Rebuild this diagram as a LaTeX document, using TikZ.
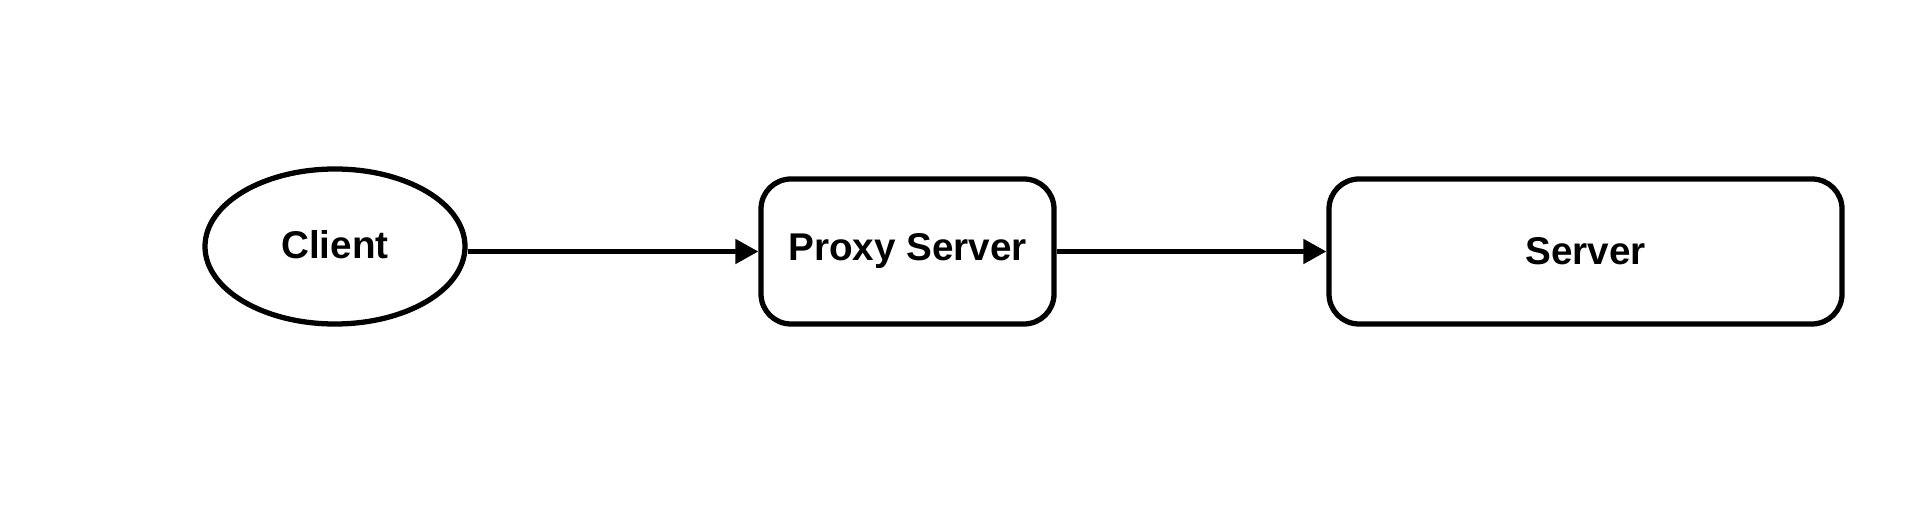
\documentclass[tikz,border=0pt]{standalone}
\usepackage{fontspec}
\setmainfont{Liberation Sans}
\usepackage{tikz}
\usetikzlibrary{positioning, arrows.meta, shapes.geometric}

\begin{document}
\begin{tikzpicture}[
  every node/.style = {font=\fontsize{11pt}{13pt}\selectfont\bfseries},
  box/.style   = {draw, line width=1.5pt, rounded corners=3mm,
                  minimum height=1.45cm, align=center},
  oval/.style  = {draw, ellipse, line width=1.5pt, inner sep=0pt,
                  minimum width=2.6cm, minimum height=1.55cm},
  arr/.style   = {-{Triangle[length=2.3mm, width=2.4mm]}, line width=1.4pt}
]
\useasboundingbox (0,0) rectangle (19.14,5.11);

\node[oval] (client) at (3.35,  2.645) {\raisebox{0.5mm}{Client}};
\node[box, minimum width=2.93cm] (proxy)  at (9.075, 2.595) {Proxy Server};
\node[box, minimum width=5.13cm] (server) at (15.855,2.595) {Server};

\draw[arr] (client.east |- proxy.west) -- (proxy.west);
\draw[arr] (proxy.east) -- (server.west);

\end{tikzpicture}
\end{document}
